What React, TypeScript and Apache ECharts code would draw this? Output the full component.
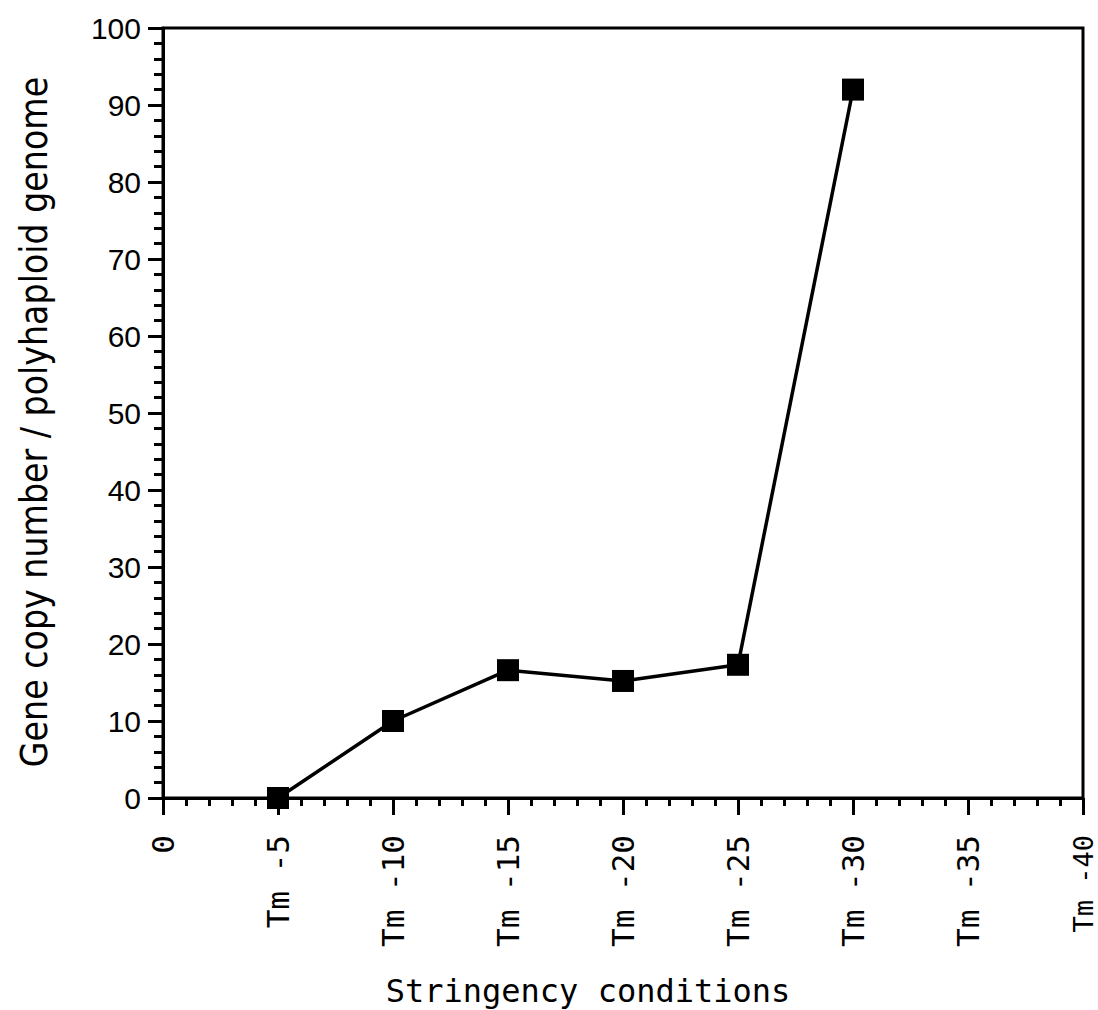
import React, { useEffect, useRef } from "react";
import * as echarts from "echarts";

const stringency = [5, 10, 15, 20, 25, 30];
const copyNumber = [0, 10, 16.6, 15.2, 17.3, 92.0];
const xTitle = "Stringency conditions";
const yTitle = "Gene copy number / polyhaploid genome";
const xPrefix = "Tm -";

export default function App() {
  const ref = useRef<HTMLDivElement>(null);
  useEffect(() => {
    const chart = echarts.init(ref.current!, null, { renderer: "svg" });
    chart.setOption({
      animation: false,
      backgroundColor: "#fff",
      grid: {
        left: 163,
        right: 15,
        top: 28,
        bottom: 212,
        show: true,
        borderColor: "#000",
        borderWidth: 3,
      },
      xAxis: {
        type: "value",
        min: 0,
        max: 40,
        interval: 5,
        axisLine: { lineStyle: { color: "#000", width: 3 } },
        axisTick: { show: true, length: 17, lineStyle: { color: "#000", width: 3 } },
        minorTick: { show: true, splitNumber: 5, length: 8, lineStyle: { color: "#000", width: 3 } },
        splitLine: { show: false },
        axisLabel: {
          rotate: 90,
          margin: 37,
          color: "#000",
          fontSize: 31,
          lineHeight: 24,
          fontFamily: "'DejaVu Sans Mono', monospace",
          formatter: (v: number) =>
            v === 0 ? "0" : v === 40 ? "{e|" + xPrefix + v + "}" : xPrefix + v,
          rich: {
            e: {
              fontSize: 27,
              lineHeight: 20,
              color: "#000",
              fontFamily: "'DejaVu Sans Mono', monospace",
            },
          },
        },
      },
      yAxis: {
        type: "value",
        min: 0,
        max: 100,
        interval: 10,
        axisLine: { show: true, lineStyle: { color: "#000", width: 3 } },
        axisTick: { show: true, length: 15, lineStyle: { color: "#000", width: 3 } },
        minorTick: { show: true, splitNumber: 5, length: 9, lineStyle: { color: "#000", width: 3 } },
        splitLine: { show: false },
        axisLabel: {
          margin: 22,
          color: "#000",
          fontSize: 30,
          fontFamily: "'Liberation Sans', Arial, sans-serif",
        },
      },
      graphic: [
        {
          type: "text",
          x: 588,
          y: 991,
          style: {
            text: xTitle,
            fill: "#000",
            fontSize: 32,
            fontFamily: "'DejaVu Sans Mono', monospace",
            textAlign: "center",
            textVerticalAlign: "middle",
          },
        },
        {
          type: "text",
          x: 34,
          y: 422,
          rotation: Math.PI / 2,
          style: {
            text: yTitle,
            fill: "#000",
            fontSize: 37,
            fontFamily: "'Liberation Sans Narrow', 'DejaVu Sans Condensed', 'DejaVu Sans', sans-serif",
            textAlign: "center",
            textVerticalAlign: "middle",
          },
        },
      ],
      series: [
        {
          type: "line",
          data: stringency.map((s, i) => [s, copyNumber[i]]),
          symbol: "rect",
          symbolSize: 22,
          lineStyle: { color: "#000", width: 3.5 },
          itemStyle: { color: "#000" },
        },
      ],
    });
    return () => chart.dispose();
  }, []);
  return (
    <div
      ref={ref}
      style={{ position: "absolute", left: 0, top: 0, width: 1098, height: 1010 }}
    />
  );
}
